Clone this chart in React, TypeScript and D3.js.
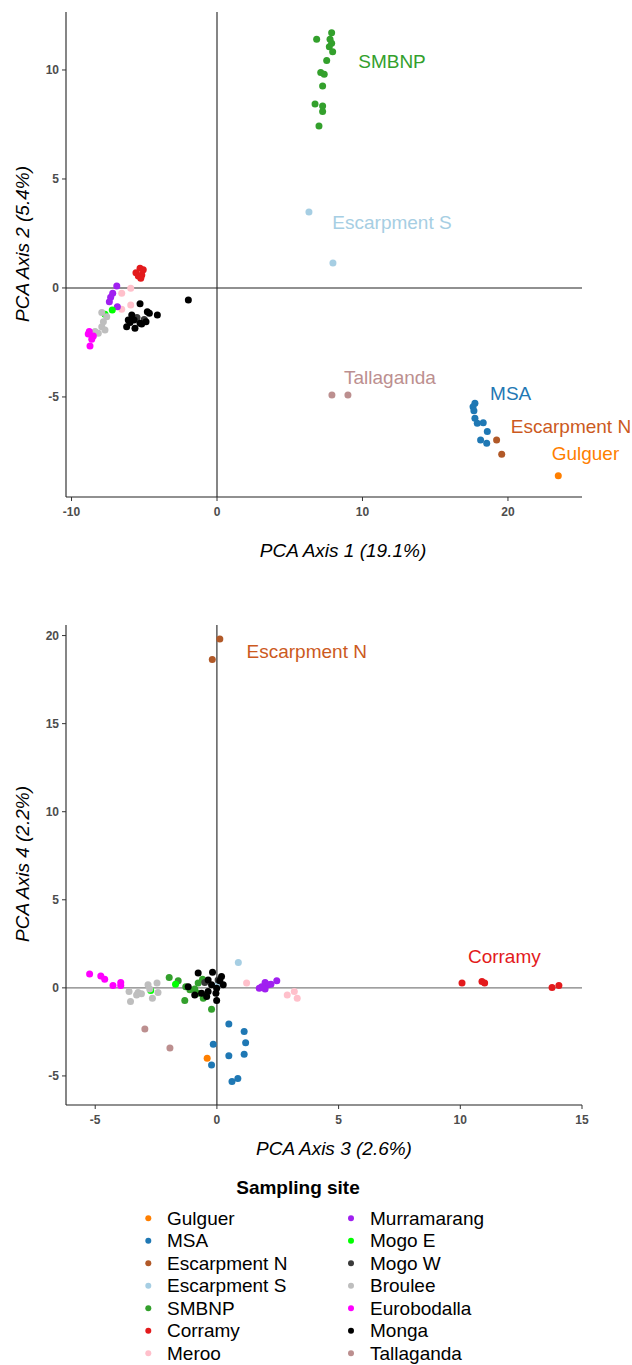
import React from 'react';
import * as d3 from 'd3';

const sites = ['Gulguer', 'MSA', 'Escarpment N', 'Escarpment S', 'SMBNP', 'Corramy', 'Meroo',
  'Murramarang', 'Mogo E', 'Mogo W', 'Broulee', 'Eurobodalla', 'Monga', 'Tallaganda'];
const siteColors = ['#FF7F00', '#1F78B4', '#B15928', '#A6CEE3', '#33A02C', '#E31A1C', '#FFC0CB',
  '#A020F0', '#00FF00', '#3A3A3A', '#BEBEBE', '#FF00FF', '#000000', '#BC8F8F'];

// PCA axis 1 / axis 2 scores
const gulguer12 = [[23.46, -8.62]];
const msa12 = [[17.73, -5.29], [17.6, -5.45], [17.66, -5.63], [17.73, -5.98], [17.89, -6.21], [18.3, -6.18], [18.58, -6.59], [18.12, -6.97], [18.54, -7.12]];
const escN12 = [[19.22, -6.97], [19.57, -7.63]];
const escS12 = [[6.32, 3.49], [7.97, 1.15]];
const smbnp12 = [[7.88, 11.71], [6.85, 11.41], [7.77, 11.41], [7.88, 11.23], [7.72, 11.07], [7.95, 10.84], [7.54, 10.43], [7.13, 9.88], [7.37, 9.8], [7.26, 9.27], [6.74, 8.44], [7.26, 8.35], [7.26, 8.09], [7.01, 7.43]];
const corramy12 = [[-5.29, 0.9], [-5.07, 0.83], [-5.57, 0.7], [-5.17, 0.6], [-5.41, 0.55], [-5.24, 0.44]];
const meroo12 = [[-5.93, -0.01], [-6.55, -0.24], [-5.93, -0.78], [-6.55, -0.98]];
const murra12 = [[-6.89, 0.09], [-7.17, -0.24], [-7.31, -0.43], [-7.4, -0.63], [-6.85, -0.86]];
const mogoE12 = [[-7.2, -1.01], [-7.7, -1.21]];
const mogoW12 = [[-5.5, -1.35], [-5.0, -1.45]];
const broulee12 = [[-7.92, -1.13], [-7.58, -1.32], [-7.81, -1.55], [-7.92, -1.78], [-7.7, -1.93], [-8.16, -2.08], [-8.38, -2.0]];
const eurob12 = [[-8.78, -2.0], [-8.5, -2.2], [-8.61, -2.35], [-8.73, -2.66], [-8.85, -2.11]];
const monga12 = [[-5.29, -0.73], [-1.97, -0.55], [-4.79, -1.09], [-4.1, -1.24], [-5.86, -1.24], [-6.1, -1.47], [-5.7, -1.47], [-5.29, -1.62], [-4.88, -1.55], [-6.21, -1.78], [-5.64, -1.85], [-5.18, -1.65], [-4.65, -1.16], [-5.98, -1.59]];
const talla12 = [[7.9, -4.91], [9.0, -4.91]];

// PCA axis 3 / axis 4 scores
const gulguer34 = [[-0.4, -4.0]];
const msa34 = [[0.49, -2.05], [1.12, -2.48], [1.18, -3.11], [1.12, -3.77], [0.49, -3.86], [-0.15, -3.2], [-0.22, -4.38], [0.62, -5.31], [0.86, -5.14]];
const escN34 = [[0.12, 19.81], [-0.19, 18.64]];
const escS34 = [[0.88, 1.44], [0.05, 0.21]];
const smbnp34 = [[-1.96, 0.59], [-1.59, 0.41], [-1.28, 0.07], [-1.11, -0.11], [-0.77, 0.27], [-0.59, 0.49], [-1.32, -0.72], [-0.77, -0.3], [-0.22, -1.21], [-0.91, -0.07], [-0.56, -0.59]];
const corramy34 = [[10.07, 0.27], [10.89, 0.36], [11.0, 0.27], [13.77, 0.02], [14.05, 0.13]];
const meroo34 = [[1.22, 0.27], [2.89, -0.4], [3.18, -0.21], [3.3, -0.59]];
const murra34 = [[1.74, -0.02], [1.98, 0.3], [2.11, 0.17], [2.22, 0.21], [1.98, -0.07], [2.46, 0.4], [1.84, 0.07]];
const mogoE34 = [[-2.72, -0.15], [-1.7, 0.21]];
const mogoW34 = [[-0.5, 0.3], [0.05, 0.45]];
const broulee34 = [[-3.61, -0.21], [-3.55, -0.78], [-3.24, -0.27], [-3.1, -0.34], [-2.83, 0.17], [-2.76, -0.07], [-2.46, 0.27], [-2.42, -0.27], [-2.65, -0.59], [-3.3, -0.4]];
const eurob34 = [[-5.23, 0.78], [-4.77, 0.68], [-4.61, 0.49], [-4.27, 0.13], [-3.95, 0.3], [-3.95, 0.13]];
const monga34 = [[-0.77, 0.84], [-0.18, 0.89], [0.19, 0.64], [0.12, 0.41], [-0.36, 0.45], [-0.22, 0.17], [0.26, 0.17], [-0.01, -0.02], [-0.36, -0.21], [-0.63, -0.3], [-0.91, -0.4], [-0.04, -0.3], [-0.01, -0.72], [-0.42, -0.49], [-1.18, 0.07]];
const talla34 = [[-2.96, -2.33], [-1.93, -3.41]];

const scores12 = [gulguer12, msa12, escN12, escS12, smbnp12, corramy12, meroo12, murra12, mogoE12, mogoW12, broulee12, eurob12, monga12, talla12];
const scores34 = [gulguer34, msa34, escN34, escS34, smbnp34, corramy34, meroo34, murra34, mogoE34, mogoW34, broulee34, eurob34, monga34, talla34];

const labelText12 = ['SMBNP', 'Escarpment S', 'Tallaganda', 'MSA', 'Escarpment N', 'Gulguer'];
const labelPos12 = [[12.03, 10.41], [12.03, 3.03], [11.89, -4.08], [20.19, -4.83], [24.33, -6.36], [25.33, -7.58]];
const labelText34 = ['Escarpment N', 'Corramy'];
const labelPos34 = [[3.69, 19.09], [11.81, 1.77]];
const labelColors: Record<string, string> = {
  'SMBNP': '#33A02C', 'Escarpment S': '#A6CEE3', 'Tallaganda': '#BC8F8F', 'MSA': '#1F78B4',
  'Escarpment N': '#CC5A1E', 'Gulguer': '#FF7F00', 'Corramy': '#E31A1C',
};

const ticks1 = [-10, 0, 10, 20];
const ticks2 = [-5, 0, 5, 10];
const ticks3 = [-5, 0, 5, 10, 15];
const ticks4 = [-5, 0, 5, 10, 15, 20];

const FONT = 'Liberation Sans, Arial, sans-serif';

type PanelProps = {
  scores: number[][][];
  xDomain: [number, number];
  yDomain: [number, number];
  top: number;
  bottom: number;
  xTicks: number[];
  yTicks: number[];
  xTitle: string;
  yTitle: string;
  xTitleX: number;
  xTitleY: number;
  yTitleY: number;
  labelText: string[];
  labelPos: number[][];
  hLineColor: string;
};

function Panel(p: PanelProps) {
  const left = 66, right = 582;
  const x = d3.scaleLinear().domain(p.xDomain).range([left, right]);
  const y = d3.scaleLinear().domain(p.yDomain).range([p.bottom, p.top]);
  return (
    <g>
      <line x1={left} x2={right} y1={y(0)} y2={y(0)} stroke={p.hLineColor} strokeWidth={1.1} />
      <line x1={x(0)} x2={x(0)} y1={p.top} y2={p.bottom} stroke="#222" strokeWidth={1.1} />
      <line x1={left} x2={left} y1={p.top} y2={p.bottom} stroke="#222" strokeWidth={1.1} />
      <line x1={left} x2={right} y1={p.bottom} y2={p.bottom} stroke="#222" strokeWidth={1.1} />
      {p.xTicks.map((t) => (
        <g key={'x' + t}>
          <line x1={x(t)} x2={x(t)} y1={p.bottom} y2={p.bottom + 4} stroke="#333" />
          <text x={x(t)} y={p.bottom + 19} textAnchor="middle" fontSize={12} fontWeight="bold" fill="#4D4D4D" fontFamily={FONT}>{t}</text>
        </g>
      ))}
      {p.yTicks.map((t) => (
        <g key={'y' + t}>
          <line x1={left - 4} x2={left} y1={y(t)} y2={y(t)} stroke="#333" />
          <text x={left - 7} y={y(t)} dy="0.35em" textAnchor="end" fontSize={12} fontWeight="bold" fill="#4D4D4D" fontFamily={FONT}>{t}</text>
        </g>
      ))}
      {p.scores.map((arr, si) =>
        arr.map((d, i) => (
          <circle key={si + '-' + i} cx={x(d[0])} cy={y(d[1])} r={3.5} fill={siteColors[si]} />
        ))
      )}
      {p.labelText.map((t, i) => (
        <text key={'l' + i} x={x(p.labelPos[i][0])} y={y(p.labelPos[i][1])} dy="0.35em" textAnchor="middle"
          fontSize={19} fill={labelColors[t]} fontFamily={FONT}>{t}</text>
      ))}
      <text x={p.xTitleX} y={p.xTitleY} dy="0.35em" textAnchor="middle" fontSize={19} fontStyle="italic" fill="#000" fontFamily={FONT}>{p.xTitle}</text>
      <text transform={`translate(22,${p.yTitleY}) rotate(-90)`} dy="0.35em" textAnchor="middle" fontSize={19} fontStyle="italic" fill="#000" fontFamily={FONT}>{p.yTitle}</text>
    </g>
  );
}

export default function App() {
  const legendRowY = (i: number) => 1218.3 + i * 22.5;
  return (
    <div style={{ position: 'absolute', left: 0, top: 0 }}>
      <svg width={632} height={1365} style={{ display: 'block', background: '#fff' }}>
        <rect width={632} height={1365} fill="#fff" />
        <Panel scores={scores12} xDomain={[-10.38, 25.09]} yDomain={[-9.59, 12.66]} top={12} bottom={497}
          xTicks={ticks1} yTicks={ticks2} xTitle="PCA Axis 1 (19.1%)" yTitle="PCA Axis 2 (5.4%)"
          xTitleX={343} xTitleY={550} yTitleY={244}
          labelText={labelText12} labelPos={labelPos12} hLineColor="#222" />
        <Panel scores={scores34} xDomain={[-6.2, 15.0]} yDomain={[-6.65, 20.6]} top={625} bottom={1105}
          xTicks={ticks3} yTicks={ticks4} xTitle="PCA Axis 3 (2.6%)" yTitle="PCA Axis 4 (2.2%)"
          xTitleX={334} xTitleY={1148} yTitleY={864}
          labelText={labelText34} labelPos={labelPos34} hLineColor="#7F7F7F" />
        <text x={298} y={1187} dy="0.35em" textAnchor="middle" fontSize={19} fontWeight="bold" fontFamily={FONT}>Sampling site</text>
        {sites.map((s, i) => {
          const col = i < 7 ? 0 : 1;
          const row = i % 7;
          const kx = col === 0 ? 148.3 : 351;
          const tx = col === 0 ? 167 : 370;
          return (
            <g key={s}>
              <circle cx={kx} cy={legendRowY(row)} r={3} fill={siteColors[i]} />
              <text x={tx} y={legendRowY(row)} dy="0.35em" fontSize={19} fontFamily={FONT} fill="#000">{s}</text>
            </g>
          );
        })}
      </svg>
    </div>
  );
}
